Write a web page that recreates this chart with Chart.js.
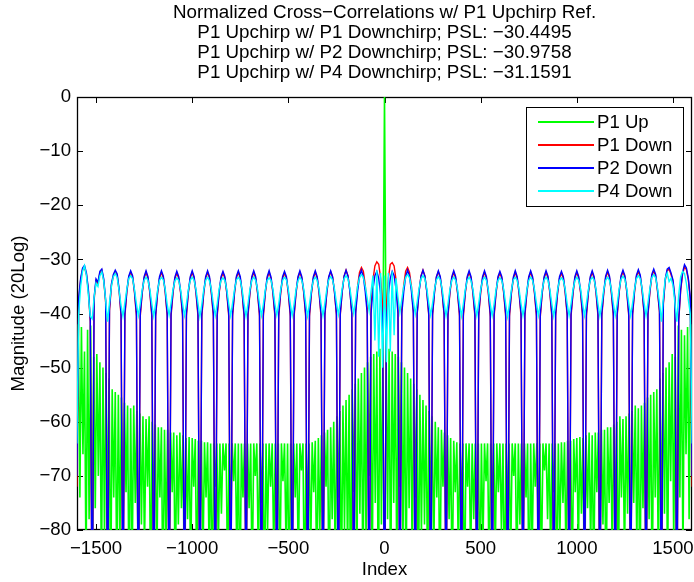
<!DOCTYPE html>
<html>
<head>
<meta charset="utf-8">
<script src="https://cdn.jsdelivr.net/npm/chart.js@4/dist/chart.umd.min.js"></script>
<style>
  html, body { margin: 0; padding: 0; background: #fff; }
  canvas { display: block; }
</style>
</head>
<body>
<canvas id="canvas" width="694" height="582"></canvas>
<script>
// correlation lag index of the first sample, and sample spacing of each trace
var indexStart = -1600
var upStep = 8
var downStep = 10

var titleLines = [
    'Normalized Cross\u2212Correlations w/ P1 Upchirp Ref.',
    'P1 Upchirp w/ P1 Downchirp; PSL: \u221230.4495',
    'P1 Upchirp w/ P2 Downchirp; PSL: \u221230.9758',
    'P1 Upchirp w/ P4 Downchirp; PSL: \u221231.1591'
]
var seriesLabels = ['P1 Up', 'P1 Down', 'P2 Down', 'P4 Down']
var seriesColors = ['#00ff00', '#ff0000', '#0000ff', '#00ffff']
var xTicks = [-1500, -1000, -500, 0, 500, 1000, 1500]
var yTicks = [0, -10, -20, -30, -40, -50, -60, -70, -80]

// P1 upchirp autocorrelation, dB, every 8 lags from -1600 to 1600
var p1UpDb = [
    -64, -42, -74, -42.5, -66, -47, -88, -43, -78, -42.2,
    -92, -48, -76, -47.5, -70, -49, -89, -50, -81, -51,
    -78, -52, -94, -54, -74, -54.5, -90, -55, -83, -55.5,
    -80, -56.5, -73, -57, -95, -57.5, -86, -57, -75, -58,
    -91, -58.5, -79, -59, -84, -59.5, -72, -59, -93, -60,
    -77, -60.5, -87, -61, -74, -61, -95, -61.5, -82, -61.5,
    -85, -62, -73, -62, -92, -62.5, -79, -62, -76, -62.5,
    -96, -63, -78, -62.8, -88, -63, -72, -63.2, -91, -63.5,
    -80, -63.5, -86, -63.8, -74, -63.8, -84, -64, -94, -64,
    -72, -64, -83, -64, -77, -64, -69, -64, -89, -64,
    -78, -64, -71, -64, -85, -64, -95, -64, -74, -64,
    -82, -64, -76, -64, -91, -64, -70, -64, -86, -64,
    -75, -64, -94, -64, -80, -64, -72, -64, -84, -64,
    -77, -64, -90, -64, -71, -64, -83, -64, -93, -64,
    -79, -64, -74, -64, -87, -64, -69, -64, -95, -64,
    -76, -64, -85, -63.8, -73, -63.5, -92, -63, -80, -62.5,
    -84, -62, -72, -61.5, -95, -61, -78, -60, -87, -59,
    -74, -58, -91, -57, -80, -56, -85, -55, -96, -54,
    -73, -53, -88, -52, -77, -51, -93, -50, -82, -49,
    -70, -48, -90, -47.5, -75, -47, -96, -46.5, -79, -45,
    0,
    -45, -78, -46.5, -94, -47, -75, -47.5, -88, -48, -72,
    -49, -83, -50, -92, -51, -76, -52, -86, -53, -74,
    -54, -95, -55, -81, -56, -79, -57, -90, -58, -77,
    -59, -86, -60, -74, -61, -94, -61.5, -72, -62, -82,
    -62.5, -78, -63, -92, -63.5, -73, -63.8, -85, -64, -76,
    -64, -95, -64, -72, -64, -86, -64, -78, -64, -81,
    -64, -91, -64, -83, -64, -71, -64, -89, -64, -75,
    -64, -84, -64, -73, -64, -80, -64, -94, -64, -77,
    -64, -86, -64, -70, -64, -90, -64, -79, -64, -82,
    -64, -74, -64, -95, -64, -84, -64, -72, -64, -80,
    -64, -88, -64, -69, -64, -78, -64, -85, -64, -73,
    -64, -93, -64, -81, -63.8, -75, -63.8, -86, -63.5, -79,
    -63.5, -90, -63.2, -73, -63, -84, -62.8, -77, -63, -95,
    -62.5, -76, -62, -83, -62.5, -90, -62, -73, -62, -86,
    -61.5, -79, -61.5, -94, -61, -75, -61, -84, -60.5, -78,
    -60, -91, -59, -74, -59.5, -86, -59, -77, -58.5, -89,
    -58, -75, -57, -83, -57.5, -95, -57, -76, -56.5, -87,
    -55.5, -78, -55, -93, -54.5, -74, -54, -88, -52, -80,
    -51, -77, -50, -90, -49, -71, -47.5, -82, -48, -92,
    -42.2, -74, -43, -86, -44, -66, -42.5, -78, -42, -64
]

// cross-correlations, dB, every 10 lags from -1600 to 1600 (one lobe per row)
var p1DownDb = [
    -72, -37.5, -33.8, -31.9, -31.5, -32.8, -35.8, -41.5,
    -100, -37.5, -33.9, -34.5, -32.5, -32.0, -33.9, -38,
    -100, -39.5, -34.8, -33.1, -32.3, -33.0, -35.8, -40.5,
    -100, -40.5, -36.1, -33.4, -32.4, -33.3, -36.2, -40.5,
    -100, -40.5, -36.3, -33.5, -32.4, -33.5, -36.3, -40.5,
    -100, -40.6, -36.3, -33.5, -32.4, -33.4, -36.2, -40.5,
    -100, -40.5, -36.3, -33.6, -32.5, -33.5, -36.3, -40.6,
    -100, -40.5, -36.2, -33.5, -32.4, -33.5, -36.3, -40.5,
    -100, -40.6, -36.3, -33.5, -32.4, -33.5, -36.4, -40.5,
    -100, -40.5, -36.3, -33.5, -32.5, -33.5, -36.3, -40.5,
    -100, -40.5, -36.3, -33.4, -32.4, -33.5, -36.3, -40.7,
    -100, -40.5, -36.4, -33.5, -32.4, -33.5, -36.3, -40.5,
    -100, -40.5, -36.3, -33.5, -32.4, -33.6, -36.3, -40.5,
    -100, -40.6, -36.3, -33.5, -32.5, -33.5, -36.3, -40.5,
    -100, -40.5, -36.3, -33.5, -32.4, -33.5, -36.2, -40.5,
    -100, -40.5, -36.3, -33.5, -32.4, -33.5, -36.3, -40.6,
    -100, -40.4, -36.2, -33.4, -32.3, -33.3, -36.1, -40.3,
    -100, -40.3, -36.0, -33.1, -32.0, -33.0, -35.8, -40.0,
    -100, -39.5, -35.0, -32.4, -31.5, -32.2, -34.8, -39.0,
    -100, -38.5, -33.8, -31.2, -30.4495, -30.9, -33.5, -38.5,
    -100, -38.5, -33.5, -30.9, -30.6, -31.2, -33.8, -38.5,
    -100, -39.0, -34.8, -32.2, -31.5, -32.4, -35.0, -39.5,
    -100, -40.0, -35.8, -33.0, -32.0, -33.1, -36.0, -40.3,
    -100, -40.3, -36.1, -33.3, -32.3, -33.4, -36.2, -40.4,
    -100, -40.6, -36.3, -33.5, -32.4, -33.5, -36.3, -40.5,
    -100, -40.5, -36.3, -33.5, -32.4, -33.5, -36.3, -40.5,
    -100, -40.5, -36.2, -33.5, -32.4, -33.5, -36.3, -40.6,
    -100, -40.5, -36.3, -33.5, -32.5, -33.5, -36.3, -40.5,
    -100, -40.5, -36.3, -33.6, -32.4, -33.5, -36.4, -40.5,
    -100, -40.5, -36.3, -33.5, -32.4, -33.5, -36.3, -40.5,
    -100, -40.7, -36.3, -33.5, -32.4, -33.4, -36.3, -40.5,
    -100, -40.5, -36.3, -33.5, -32.5, -33.5, -36.3, -40.5,
    -100, -40.5, -36.4, -33.5, -32.4, -33.5, -36.3, -40.6,
    -100, -40.5, -36.3, -33.5, -32.4, -33.5, -36.2, -40.5,
    -100, -40.5, -36.3, -33.4, -32.3, -33.4, -36.3, -40.5,
    -100, -40.4, -36.2, -33.3, -32.3, -33.3, -36.1, -40.4,
    -100, -40.3, -36.1, -33.2, -32.2, -33.2, -36.0, -40.1,
    -100, -40.3, -36.1, -33.1, -32.1, -33.1, -36.0, -39.8,
    -100, -38.3, -33.9, -32.1, -31.8, -32.8, -34.1, -37.4,
    -100, -41.4, -35.8, -32.7, -31.4, -31.9, -33.8, -37.4,
    -72
]

var p2DownDb = [
    -70, -37, -33.5, -31.6, -31.1, -32.5, -35.5, -41,
    -100, -37, -33.6, -34.2, -32.2, -31.8, -33.6, -37.5,
    -100, -39, -34.5, -32.8, -32.0, -32.7, -35.5, -40,
    -100, -40, -35.8, -33.1, -32.1, -33.0, -35.9, -40,
    -100, -40, -36, -33.2, -32.1, -33.2, -36, -40,
    -100, -40.2, -36, -33.2, -32.1, -33.1, -35.9, -40,
    -100, -40, -36, -33.3, -32.2, -33.2, -36, -40.1,
    -100, -40, -35.9, -33.2, -32.1, -33.2, -36, -40,
    -100, -40.1, -36, -33.2, -32.1, -33.2, -36.1, -40,
    -100, -40, -36, -33.2, -32.2, -33.2, -36, -40,
    -100, -40, -36, -33.1, -32.1, -33.2, -36, -40.2,
    -100, -40, -36.1, -33.2, -32.1, -33.2, -36, -40,
    -100, -40, -36, -33.2, -32.1, -33.3, -36, -40,
    -100, -40.1, -36, -33.2, -32.2, -33.2, -36, -40,
    -100, -40, -36, -33.2, -32.1, -33.2, -35.9, -40,
    -100, -40, -36, -33.2, -32.1, -33.2, -36, -40.1,
    -100, -40, -36, -33.2, -32.1, -33.2, -36, -40,
    -100, -40, -35.9, -33.1, -32.0, -33.1, -35.9, -40,
    -100, -40, -35.9, -33.1, -32.0, -33.2, -36, -40,
    -100, -40, -35.5, -33, -32.2, -33.5, -36.5, -41,
    -100, -41, -36.5, -33.5, -32.2, -33, -35.5, -40,
    -100, -40, -36, -33.2, -32.0, -33.1, -35.9, -40,
    -100, -40, -35.9, -33.1, -32.0, -33.1, -35.9, -40,
    -100, -40, -36, -33.2, -32.1, -33.2, -36, -40,
    -100, -40.1, -36, -33.2, -32.1, -33.2, -36, -40,
    -100, -40, -36, -33.2, -32.1, -33.2, -36, -40,
    -100, -40, -35.9, -33.2, -32.1, -33.2, -36, -40.1,
    -100, -40, -36, -33.2, -32.2, -33.2, -36, -40,
    -100, -40, -36, -33.3, -32.1, -33.2, -36.1, -40,
    -100, -40, -36, -33.2, -32.1, -33.2, -36, -40,
    -100, -40.2, -36, -33.2, -32.1, -33.1, -36, -40,
    -100, -40, -36, -33.2, -32.2, -33.2, -36, -40,
    -100, -40, -36.1, -33.2, -32.1, -33.2, -36, -40,
    -100, -40, -36, -33.2, -32.1, -33.2, -35.9, -40,
    -100, -40, -36, -33.1, -32.0, -33.1, -36, -40,
    -100, -40, -35.9, -33.0, -32.0, -33.0, -35.8, -40,
    -100, -40, -35.8, -32.9, -31.9, -32.9, -35.7, -39.8,
    -100, -40, -35.8, -32.8, -31.8, -32.8, -35.7, -39.5,
    -100, -38, -33.6, -31.8, -31.5, -32.5, -33.8, -37,
    -100, -41, -35.5, -32.4, -30.9758, -31.6, -33.5, -37,
    -70
]

var p4DownDb = [
    -64, -40, -35, -32.2, -31.1591, -33, -36.5, -40.5,
    -41, -37, -34.4, -35, -33, -32.3, -34, -37.5,
    -41.5, -38, -35, -33.2, -32.6, -33.4, -35.8, -38.5,
    -40.5, -38, -35.5, -33.6, -33.0, -33.6, -35.6, -38.2,
    -40.4, -38.2, -35.6, -33.9, -33.3, -33.9, -35.6, -38.2,
    -40.5, -38.2, -35.7, -33.9, -33.3, -33.8, -35.6, -38.3,
    -40.3, -38.1, -35.6, -34.0, -33.4, -33.9, -35.7, -38.2,
    -40.4, -38.2, -35.6, -33.9, -33.3, -33.9, -35.6, -38.1,
    -40.6, -38.3, -35.6, -33.9, -33.3, -34.0, -35.6, -38.2,
    -40.4, -38.2, -35.5, -33.9, -33.4, -33.9, -35.6, -38.2,
    -40.4, -38.1, -35.6, -33.8, -33.3, -33.9, -35.7, -38.3,
    -40.5, -38.2, -35.6, -33.9, -33.3, -33.9, -35.6, -38.2,
    -40.4, -38.3, -35.7, -33.9, -33.4, -33.9, -35.6, -38.2,
    -40.3, -38.2, -35.6, -33.9, -33.3, -33.8, -35.6, -38.2,
    -40.4, -38.2, -35.6, -34.0, -33.3, -33.9, -35.5, -38.1,
    -40.5, -38.2, -35.6, -33.9, -33.3, -33.9, -35.6, -38.2,
    -40.4, -38.1, -35.5, -33.8, -33.2, -33.8, -35.5, -38.0,
    -40.2, -37.9, -35.3, -33.6, -33.0, -33.6, -35.3, -37.8,
    -40.0, -37.6, -35.0, -33.4, -32.8, -33.3, -35.0, -37.2,
    -39.5, -36, -33, -45, -32, -48, -32.5, -50,
    -33, -49, -32.5, -47, -32.2, -44, -33.5, -37,
    -39.8, -37.4, -35.0, -33.3, -32.8, -33.4, -35.1, -37.7,
    -40.1, -37.8, -35.3, -33.6, -33.0, -33.6, -35.4, -38.0,
    -40.3, -38.1, -35.5, -33.8, -33.2, -33.8, -35.5, -38.1,
    -40.4, -38.2, -35.6, -33.9, -33.3, -33.9, -35.6, -38.2,
    -40.5, -38.2, -35.6, -33.9, -33.3, -34.0, -35.6, -38.2,
    -40.4, -38.1, -35.6, -33.9, -33.3, -33.9, -35.7, -38.3,
    -40.4, -38.2, -35.6, -33.9, -33.4, -33.9, -35.6, -38.2,
    -40.6, -38.2, -35.6, -33.8, -33.3, -33.9, -35.6, -38.2,
    -40.4, -38.2, -35.7, -33.9, -33.3, -33.9, -35.6, -38.1,
    -40.4, -38.3, -35.6, -33.9, -33.3, -33.9, -35.6, -38.2,
    -40.5, -38.2, -35.6, -33.9, -33.4, -33.9, -35.6, -38.2,
    -40.4, -38.2, -35.6, -34.0, -33.3, -33.9, -35.5, -38.2,
    -40.4, -38.1, -35.6, -33.9, -33.3, -33.8, -35.6, -38.2,
    -40.5, -38.2, -35.6, -33.9, -33.3, -33.9, -35.6, -38.2,
    -40.4, -38.2, -35.5, -33.7, -33.1, -33.7, -35.5, -38.1,
    -40.4, -38.1, -35.5, -33.6, -33.0, -33.6, -35.5, -38.1,
    -40.4, -38, -35.4, -33.4, -32.8, -33.4, -35.4, -38,
    -41.5, -37, -33.5, -32.5, -34.1, -33.5, -34.8, -38,
    -41.5, -36.5, -33.2, -32.2, -32.6, -34.5, -37.5, -40,
    -64
]

var fontFamily = '"Liberation Sans", Arial, Helvetica, sans-serif'
var fontSize = 18.6
var titleSize = 18.8
var tickLen = 6

Chart.defaults.font.family = fontFamily
Chart.defaults.color = '#000'

function toPoints(values, step) {
    return values.map(function(v, i) { return { x: indexStart + i * step, y: v } })
}

function minusLabel(v) {
    return v < 0 ? '\u2212' + Math.abs(v) : String(v)
}

// axes box with inward tick marks on all four sides, drawn under the traces
var axesBox = {
    id: 'axesBox',
    beforeDatasetsDraw: function(chart) {
        var ctx = chart.ctx
        var a = chart.chartArea
        var xs = chart.scales.x
        var ys = chart.scales.y
        ctx.save()
        ctx.strokeStyle = '#000'
        ctx.lineWidth = 1
        ctx.beginPath()
        xTicks.forEach(function(v) {
            var px = Math.round(xs.getPixelForValue(v)) + 0.5
            ctx.moveTo(px, a.bottom); ctx.lineTo(px, a.bottom - tickLen)
            ctx.moveTo(px, a.top); ctx.lineTo(px, a.top + tickLen)
        })
        yTicks.forEach(function(v) {
            var py = Math.round(ys.getPixelForValue(v)) + 0.5
            ctx.moveTo(a.left, py); ctx.lineTo(a.left + tickLen, py)
            ctx.moveTo(a.right, py); ctx.lineTo(a.right - tickLen, py)
        })
        ctx.stroke()
        ctx.lineWidth = 1.3
        ctx.strokeRect(Math.round(a.left) + 0.5, Math.round(a.top) + 0.5,
            Math.round(a.right - a.left) - 1, Math.round(a.bottom - a.top) - 1)
        ctx.restore()
    }
}

// boxed legend in the upper right corner of the axes
var boxedLegend = {
    id: 'boxedLegend',
    afterDraw: function(chart) {
        var ctx = chart.ctx
        var a = chart.chartArea
        var boxW = 157, boxH = 99
        var left = Math.round(a.right - 9 - boxW)
        var top = Math.round(a.top + 10)
        ctx.save()
        ctx.fillStyle = '#fff'
        ctx.fillRect(left, top, boxW, boxH)
        ctx.strokeStyle = '#000'
        ctx.lineWidth = 1
        ctx.strokeRect(left + 0.5, top + 0.5, boxW, boxH)
        ctx.font = fontSize + 'px ' + fontFamily
        ctx.textBaseline = 'middle'
        ctx.textAlign = 'left'
        chart.data.datasets.forEach(function(ds, i) {
            var y = Math.round(top + 15 + i * 23)
            ctx.strokeStyle = seriesColors[i]
            ctx.lineWidth = 2
            ctx.beginPath()
            ctx.moveTo(left + 12, y)
            ctx.lineTo(left + 68, y)
            ctx.stroke()
            ctx.fillStyle = '#000'
            ctx.fillText(ds.label, left + 71, y + 1)
        })
        ctx.restore()
    }
}

var traces = [
    { values: p1UpDb, step: upStep, width: 1.6 },
    { values: p1DownDb, step: downStep, width: 1.4 },
    { values: p2DownDb, step: downStep, width: 1.4 },
    { values: p4DownDb, step: downStep, width: 1.4 }
]

var datasets = traces.map(function(t, i) {
    return {
        label: seriesLabels[i],
        data: toPoints(t.values, t.step),
        borderColor: seriesColors[i],
        backgroundColor: seriesColors[i],
        borderWidth: t.width,
        pointRadius: 0,
        tension: 0,
        fill: false,
        // later traces sit on top of earlier ones
        order: traces.length - i
    }
})

var ctx = document.getElementById('canvas').getContext('2d')
var chart = new Chart(ctx, {
    type: 'line',
    data: { datasets: datasets },
    options: {
        responsive: false,
        animation: false,
        events: [],
        parsing: false,
        layout: { padding: { right: 2 } },
        plugins: {
            legend: { display: false },
            tooltip: { enabled: false },
            title: {
                display: true,
                fullSize: false,
                text: titleLines,
                color: '#000',
                font: { size: titleSize, weight: 'normal', lineHeight: 20 / titleSize },
                padding: { top: 3, bottom: 14 }
            }
        },
        scales: {
            x: {
                type: 'linear',
                min: -1599,
                max: 1599,
                grid: { display: false, drawTicks: false },
                border: { display: false },
                afterBuildTicks: function(scale) {
                    scale.ticks = xTicks.map(function(v) { return { value: v } })
                },
                afterFit: function(scale) {
                    scale.height = 52
                    scale.paddingLeft = 0
                    scale.paddingRight = 0
                },
                ticks: {
                    padding: 8,
                    maxRotation: 0,
                    autoSkip: false,
                    color: '#000',
                    font: { size: fontSize },
                    callback: minusLabel
                },
                title: {
                    display: true,
                    text: 'Index',
                    color: '#000',
                    font: { size: fontSize },
                    padding: { top: 0, bottom: 1 }
                }
            },
            y: {
                type: 'linear',
                min: -80,
                max: 0,
                grid: { display: false, drawTicks: false },
                border: { display: false },
                afterBuildTicks: function(scale) {
                    scale.ticks = yTicks.map(function(v) { return { value: v } })
                },
                afterFit: function(scale) {
                    scale.width = 77
                    scale.paddingTop = 0
                    scale.paddingBottom = 0
                },
                ticks: {
                    padding: 6,
                    autoSkip: false,
                    color: '#000',
                    font: { size: fontSize },
                    callback: minusLabel
                },
                title: {
                    display: true,
                    text: 'Magnitude (20Log)',
                    color: '#000',
                    font: { size: fontSize },
                    padding: { top: 8, bottom: 0 }
                }
            }
        }
    },
    plugins: [axesBox, boxedLegend]
})
</script>
</body>
</html>
